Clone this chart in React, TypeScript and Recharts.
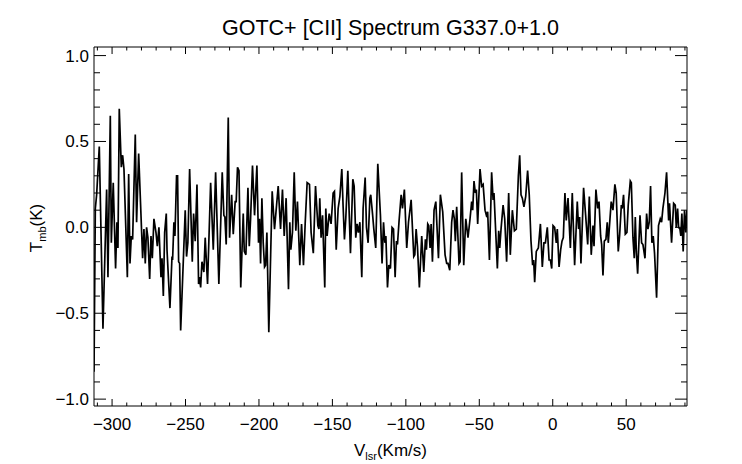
import { LineChart, Line, XAxis, YAxis, Customized } from "recharts";

const FONT = "'Liberation Sans', Arial, Helvetica, sans-serif";

// spectrum, split into eight velocity bands (km/s, K)
const velA = [-312.3, -311.4, -310.5, -308.7, -306.2, -303.7, -302.8, -301.2, -300.5, -299.2,
  -297.6, -296.7, -296.0, -295.1, -293.7, -292.8, -291.9, -289.6, -288.7, -287.8,
  -286.9, -286.0, -284.2, -283.3, -281.9, -279.2, -278.3, -277.4, -276.5, -275.6,
  -274.4, -273.5, -272.6, -271.5, -270.1, -269.2, -268.1, -266.7, -266.0, -265.1,
  -264.2, -263.1];
const tmbA = [-0.84, 0.11, 0.19, 0.47, -0.59, 0.22, -0.29, 0.65, -0.09, 0.26,
  -0.24, 0.03, -0.12, 0.69, 0.35, 0.42, 0.34, -0.29, 0.31, -0.21,
  -0.05, -0.07, 0.54, 0.03, 0.43, -0.18, -0.01, -0.21, 0.0, -0.06,
  -0.3, -0.05, -0.18, 0.05, -0.03, -0.11, 0.0, -0.29, -0.18, -0.4,
  -0.03, 0.08];

const velB = [-262.6, -260.6, -259.2, -258.8, -257.9, -257.2, -256.1, -255.4, -254.7, -254.0,
  -253.3, -252.4, -250.2, -249.3, -248.4, -247.2, -245.4, -244.5, -243.4, -242.2,
  -241.1, -240.4, -239.7, -238.8, -237.5, -236.6, -235.0, -232.9, -231.1, -229.5,
  -227.3, -225.0, -223.9, -223.2, -222.3, -220.9, -220.0, -218.6, -217.5, -216.2,
  -215.5, -214.6, -213.6, -212.4];
const tmbB = [-0.13, -0.47, -0.17, -0.19, 0.03, -0.05, 0.3, 0.3, -0.2, -0.21,
  -0.6, -0.4, 0.1, -0.17, -0.09, 0.34, -0.2, 0.08, -0.08, 0.25,
  -0.33, -0.29, -0.35, -0.2, -0.26, -0.06, -0.33, 0.26, -0.13, 0.32,
  -0.33, 0.32, 0.07, 0.06, -0.1, 0.64, -0.06, 0.19, -0.04, 0.15,
  0.15, 0.35, 0.33, -0.35];

const velC = [-210.7, -210.0, -208.9, -207.5, -206.6, -205.7, -204.4, -203.0, -201.4, -200.3,
  -199.6, -198.9, -198.0, -197.1, -196.2, -195.5, -194.6, -193.3, -191.0, -189.4,
  -188.0, -186.9, -185.3, -184.0, -182.8, -181.5, -179.9, -179.0, -178.3, -177.2,
  -176.0, -174.9, -173.8, -172.2, -171.0, -169.7, -168.5, -167.2, -165.6, -164.5,
  -163.0];
const tmbC = [0.08, -0.14, -0.16, 0.23, -0.11, 0.05, 0.36, 0.07, 0.36, -0.09,
  0.05, -0.21, 0.17, -0.09, -0.23, -0.22, -0.03, -0.61, 0.21, -0.01,
  0.13, 0.24, -0.01, 0.22, -0.05, 0.17, -0.36, 0.03, -0.13, -0.03,
  0.32, -0.02, 0.15, -0.22, 0.02, -0.22, 0.03, 0.26, 0.25, -0.03,
  -0.15];

const velD = [-161.5, -159.9, -159.2, -158.6, -157.7, -156.7, -155.2, -154.5, -153.6, -152.2,
  -150.9, -149.5, -148.6, -147.4, -146.1, -144.9, -143.6, -142.7, -141.8, -140.9,
  -139.5, -137.7, -136.1, -135.2, -134.1, -133.2, -132.3, -131.3, -130.0, -129.1,
  -127.7, -126.8, -125.7, -124.5, -123.9, -122.7, -121.8, -120.5, -119.1, -117.3,
  -116.2, -115.2, -114.3, -113.6, -112.5];
const tmbD = [0.24, 0.01, -0.01, 0.17, -0.06, 0.07, -0.35, 0.11, -0.05, 0.08,
  0.02, 0.2, 0.21, -0.13, 0.11, 0.18, 0.34, 0.12, -0.07, 0.05,
  0.33, -0.15, 0.28, 0.24, -0.06, 0.02, -0.03, 0.03, -0.29, 0.11,
  0.29, 0.0, -0.09, 0.17, 0.19, 0.08, -0.01, -0.12, 0.37, 0.07,
  -0.21, 0.03, -0.09, -0.05, -0.35];

const velE = [-111.6, -110.5, -109.4, -108.4, -107.3, -106.4, -105.7, -104.6, -103.2, -102.3,
  -101.0, -99.4, -98.2, -96.4, -94.6, -93.9, -93.0, -92.1, -90.8, -89.2,
  -87.8, -86.7, -86.0, -85.1, -84.4, -83.5, -82.8, -81.9, -80.8, -79.6,
  -77.8, -76.5, -74.9, -73.3, -72.2, -71.3, -70.1, -68.8, -67.9, -67.0,
  -66.3, -65.4, -63.8, -63.1, -62.0];
const tmbE = [-0.22, -0.24, 0.0, -0.01, -0.29, -0.08, -0.1, 0.04, 0.19, 0.11,
  0.22, -0.12, 0.03, 0.16, -0.17, -0.16, -0.01, -0.11, -0.35, -0.05,
  -0.26, -0.07, -0.13, 0.02, 0.01, -0.12, 0.02, -0.2, 0.1, 0.15,
  -0.18, 0.19, 0.09, -0.16, -0.21, -0.21, -0.25, 0.03, 0.1, 0.05,
  -0.08, 0.12, -0.21, -0.2, 0.32];

const velF = [-60.6, -59.2, -57.7, -56.3, -55.2, -54.5, -53.6, -52.7, -52.0, -51.1,
  -49.5, -48.4, -47.4, -46.1, -45.2, -44.3, -43.1, -41.6, -40.6, -40.0,
  -37.7, -36.8, -36.1, -35.2, -33.8, -32.7, -31.4, -30.0, -28.9, -27.5,
  -26.1, -24.8, -23.4, -22.5, -21.6, -20.7, -19.6, -18.4, -17.1, -16.0,
  -14.8, -13.7, -13.0, -12.3, -11.2];
const tmbF = [-0.22, 0.05, -0.06, 0.05, 0.15, 0.1, 0.27, 0.2, 0.22, 0.02,
  0.34, 0.24, 0.25, 0.1, 0.07, 0.09, -0.19, 0.32, 0.16, 0.2,
  -0.24, -0.02, -0.12, -0.01, 0.13, 0.05, -0.2, 0.2, -0.16, 0.1,
  -0.02, -0.01, 0.3, 0.42, 0.19, 0.17, 0.12, 0.18, 0.33, 0.19,
  -0.08, -0.22, -0.19, -0.32, -0.14];

const velG = [-9.8, -8.4, -7.1, -6.0, -5.0, -3.7, -2.5, -1.6, -0.7, 0.2,
  1.3, 2.4, 3.1, 4.3, 5.4, 6.3, 7.2, 8.3, 9.2, 10.4,
  12.0, 13.3, 14.9, 16.7, 17.6, 18.3, 19.2, 21.0, 22.4, 23.8,
  24.9, 26.2, 27.4, 28.1, 29.4, 30.6, 31.5, 32.6, 33.3, 34.2,
  35.1, 36.2, 37.1, 37.8, 39.8];
const tmbG = [-0.12, 0.02, -0.23, -0.09, -0.09, 0.0, -0.19, -0.19, -0.24, 0.01,
  0.0, -0.09, -0.01, -0.23, -0.13, -0.08, -0.06, 0.2, 0.04, 0.17,
  -0.12, 0.2, -0.22, 0.15, -0.01, 0.06, -0.21, 0.23, 0.07, -0.1,
  0.18, -0.16, 0.01, -0.11, 0.22, 0.11, 0.15, -0.05, -0.1, -0.28,
  -0.08, -0.07, 0.03, -0.09, 0.15];

const velH = [41.0, 42.3, 43.2, 44.6, 45.5, 46.7, 47.3, 48.2, 49.4, 50.5,
  51.4, 52.8, 53.5, 54.6, 55.5, 56.2, 56.9, 57.8, 59.4, 60.5,
  61.4, 62.8, 63.9, 64.8, 65.7, 66.6, 67.5, 68.4, 69.3, 70.7,
  72.0, 73.2, 74.1, 75.0, 76.4, 77.5, 78.9, 79.5, 80.9, 82.3,
  83.4, 84.1, 85.0, 85.7, 86.6, 87.2, 87.9, 88.8, 89.7, 90.6,
  91.3];
const tmbH = [0.1, 0.25, 0.2, -0.14, -0.05, 0.13, 0.11, 0.19, -0.04, -0.03,
  0.13, 0.27, 0.26, -0.06, -0.18, 0.06, -0.14, -0.27, 0.07, -0.09,
  -0.1, -0.18, 0.08, -0.01, 0.03, 0.24, -0.09, -0.05, -0.15, -0.41,
  0.01, 0.05, 0.03, 0.11, 0.2, 0.32, 0.04, 0.14, -0.09, 0.14,
  0.13, 0.0, 0.11, 0.0, -0.01, -0.05, 0.08, -0.14, 0.1, -0.03,
  0.1];

const vlsr = [...velA, ...velB, ...velC, ...velD, ...velE, ...velF, ...velG, ...velH];
const tmb = [...tmbA, ...tmbB, ...tmbC, ...tmbD, ...tmbE, ...tmbF, ...tmbG, ...tmbH];
const data = vlsr.map((v, i) => ({ v, t: tmb[i] }));

// axis ticks, labelled majors plus unlabelled minors
const xMajorTicks = [-300, -250, -200, -150, -100, -50, 0, 50];
const xTicks = Array.from({ length: 41 }, (_, i) => -310 + i * 10);
const yMajorTicks = [-1.0, -0.5, 0.0, 0.5, 1.0];
const yTicks = Array.from({ length: 21 }, (_, i) => (i - 10) / 10);

const xDomain = [-312.3, 91.4];
const yDomain = [-1.04, 1.05];

const minus = (s: string) => s.replace("-", "\u2212");
const isXMajor = (v: number) => xMajorTicks.includes(v);
const isYMajor = (v: number) => yMajorTicks.some((m) => Math.abs(m - v) < 1e-6);

const BottomTick = ({ x, y, payload }: any) => {
  const major = isXMajor(payload.value);
  return (
    <g>
      <line x1={x} x2={x} y1={y} y2={y - (major ? 7 : 3.5)} stroke="#000" />
      {major && (
        <text x={x} y={y + 24} textAnchor="middle" fontSize={17} fontFamily={FONT} fill="#000">
          {minus(String(payload.value))}
        </text>
      )}
    </g>
  );
};

const TopTick = ({ x, y, payload }: any) => {
  const major = isXMajor(payload.value);
  return <line x1={x} x2={x} y1={y} y2={y + (major ? 7 : 3.5)} stroke="#000" />;
};

const LeftTick = ({ x, y, payload }: any) => {
  const major = isYMajor(payload.value);
  return (
    <g>
      <line x1={x} x2={x + (major ? 12 : 6)} y1={y} y2={y} stroke="#000" />
      {major && (
        <text x={x - 5} y={y + 6} textAnchor="end" fontSize={17} fontFamily={FONT} fill="#000">
          {minus(payload.value.toFixed(1))}
        </text>
      )}
    </g>
  );
};

const RightTick = ({ x, y, payload }: any) => {
  const major = isYMajor(payload.value);
  return <line x1={x} x2={x - (major ? 12 : 6)} y1={y} y2={y} stroke="#000" />;
};

const Labels = () => (
  <g fontFamily={FONT}>
    <text x={390.5} y={35} textAnchor="middle" fontSize={21.5} fill="#000">
      GOTC+ [CII] Spectrum G337.0+1.0
    </text>
    <text x={390.5} y={456} textAnchor="middle" fontSize={17} fill="#000">
      V<tspan fontSize={11} dy={4}>lsr</tspan>
      <tspan dy={-4}>(Km/s)</tspan>
    </text>
    <text transform="translate(42,228) rotate(-90)" textAnchor="middle" fontSize={17} fill="#000">
      T<tspan fontSize={11} dy={4}>mb</tspan>
      <tspan dy={-4}>(K)</tspan>
    </text>
  </g>
);

export default function App() {
  return (
    <div style={{ position: "absolute", left: 0, top: 0, width: 742, height: 464, background: "#fff" }}>
      <LineChart width={742} height={464} data={data} margin={{ top: 46, right: 54, bottom: 28, left: 34 }}>
        <XAxis
          xAxisId="b"
          type="number"
          dataKey="v"
          domain={xDomain}
          allowDataOverflow
          ticks={xTicks}
          interval={0}
          tickSize={0}
          tickMargin={0}
          height={30}
          axisLine={{ stroke: "#000" }}
          tickLine={false}
          tick={(p: any) => <BottomTick {...p} />}
        />
        <XAxis
          xAxisId="t"
          orientation="top"
          type="number"
          dataKey="v"
          domain={xDomain}
          allowDataOverflow
          ticks={xTicks}
          interval={0}
          tickSize={0}
          tickMargin={0}
          height={1}
          axisLine={{ stroke: "#000" }}
          tickLine={false}
          tick={(p: any) => <TopTick {...p} />}
        />
        <YAxis
          yAxisId="l"
          type="number"
          domain={yDomain}
          allowDataOverflow
          ticks={yTicks}
          interval={0}
          tickSize={0}
          tickMargin={0}
          width={60}
          axisLine={{ stroke: "#000" }}
          tickLine={false}
          tick={(p: any) => <LeftTick {...p} />}
        />
        <YAxis
          yAxisId="r"
          orientation="right"
          type="number"
          domain={yDomain}
          allowDataOverflow
          ticks={yTicks}
          interval={0}
          tickSize={0}
          tickMargin={0}
          width={1}
          axisLine={{ stroke: "#000" }}
          tickLine={false}
          tick={(p: any) => <RightTick {...p} />}
        />
        {/* same spectrum bound to the mirror axes, kept invisible so they get a scale */}
        <Line
          xAxisId="t"
          yAxisId="r"
          type="linear"
          dataKey="t"
          stroke="none"
          dot={false}
          activeDot={false}
          isAnimationActive={false}
        />
        <Line
          xAxisId="b"
          yAxisId="l"
          type="linear"
          dataKey="t"
          stroke="#000"
          strokeWidth={1.7}
          dot={false}
          isAnimationActive={false}
        />
        <Customized component={Labels} />
      </LineChart>
    </div>
  );
}
